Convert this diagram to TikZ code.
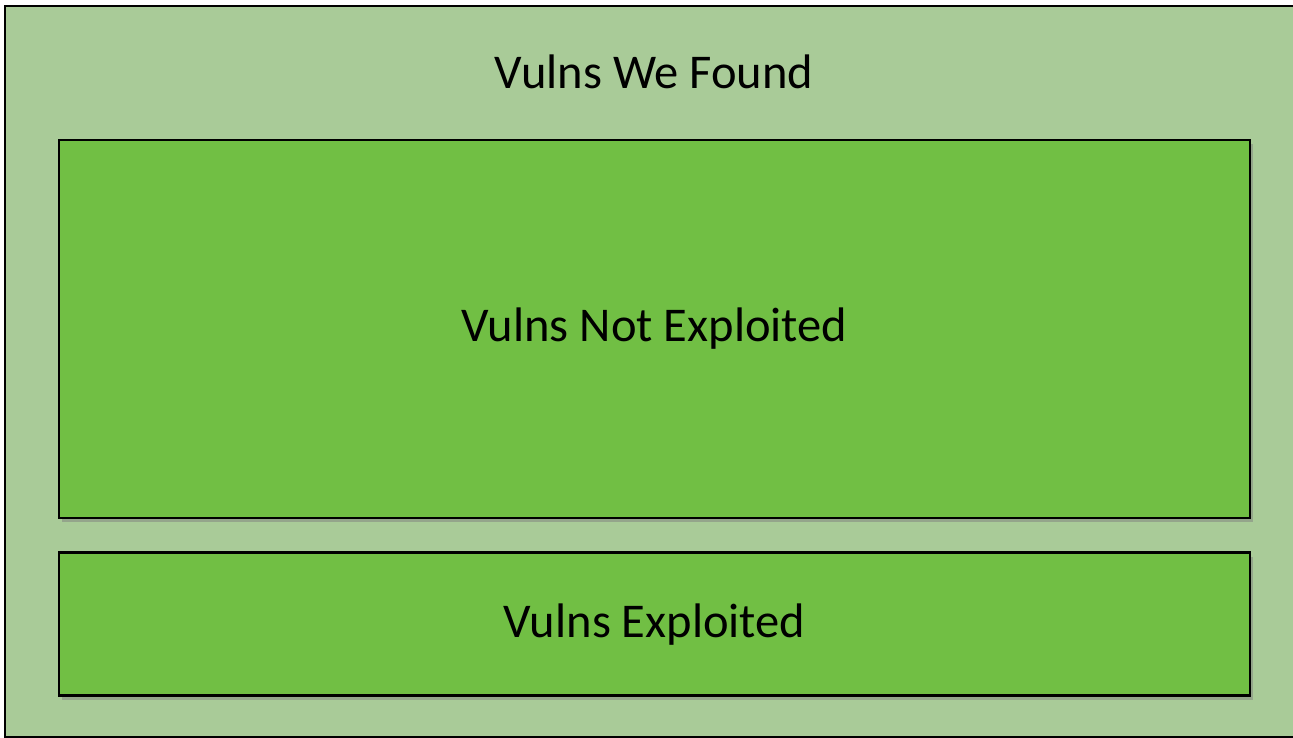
\documentclass[tikz,border=0pt]{standalone}
\usepackage{fontspec}
\setmainfont{Carlito}
\usepackage{xcolor}
\usetikzlibrary{positioning, shadows}
\definecolor{paleGreen}{HTML}{A9CB98}
\definecolor{leafGreen}{HTML}{71BF44}
\tikzstyle{Outer} = [
draw=black, line width=2.5pt, fill=paleGreen,
rectangle, inner sep=0pt
]
\tikzstyle{Vbox} = [
draw=black, line width=2.6pt, fill=leafGreen,
rectangle, inner sep=0pt, minimum width=1191pt,
drop shadow={shadow xshift=3pt, shadow yshift=-4pt, opacity=0.5}
]
\tikzstyle{Label} = [font=\fontsize{48.5}{58}\selectfont]

\begin{document}
\begin{tikzpicture}[x=1pt, y=-1pt]
			\useasboundingbox (0,0) rectangle (1293,738);
			\clip (0,0) rectangle (1293,738);
			\node [Outer, minimum width=1291pt, minimum height=731pt] (all) at (650.5,371.5) {};
			\node [Label] (found) at (654,72) {Vulns We Found};
			\node [Vbox, minimum height=378pt, Label] (notexp) at (654.5,329) {Vulns Not Exploited};
			\node [Vbox, minimum height=143pt, Label, below=32pt of notexp] (exp) {Vulns Exploited};
		\end{tikzpicture}
\end{document}
